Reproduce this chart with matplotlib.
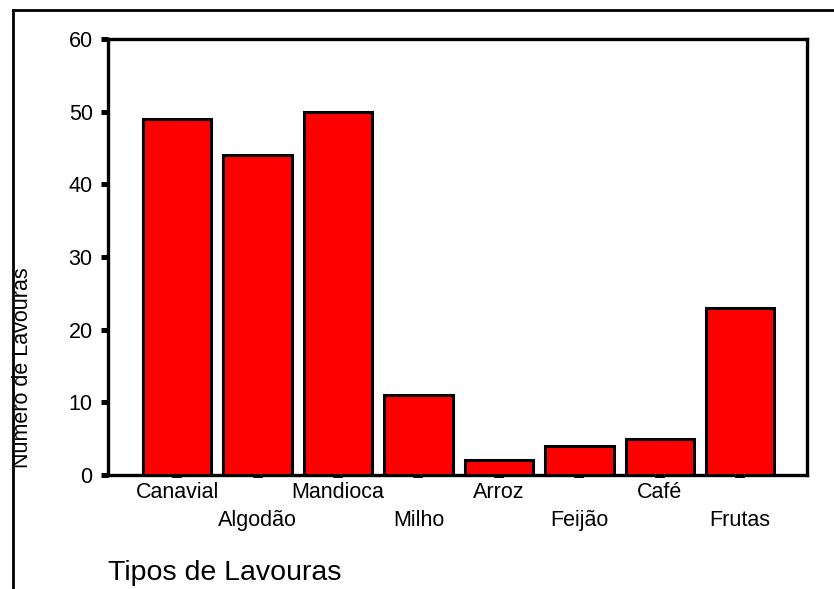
import matplotlib
matplotlib.use("Agg")
import matplotlib.pyplot as plt
from matplotlib.lines import Line2D

categories = ["Canavial", "Algodão", "Mandioca", "Milho", "Arroz", "Feijão", "Café", "Frutas"]
values = [49, 44, 50, 11, 2, 4, 5, 23]
yticks = [0, 10, 20, 30, 40, 50, 60]

plt.rcParams['font.family'] = ['Liberation Sans', 'DejaVu Sans']

W, H = 834, 589
fig = plt.figure(figsize=(W / 100, H / 100), dpi=100)
ax = fig.add_axes([108 / W, 1 - 475 / H, (807 - 108) / W, (475 - 39) / H])

x = list(range(len(categories)))
ax.bar(x, values, width=0.85, color='#ff0000', edgecolor='black', linewidth=2.2, zorder=3)

ax.set_ylim(0, 60)
ax.set_xlim(-0.86, 7.83)
ax.set_yticks(yticks)
ax.set_yticklabels([str(v) for v in yticks], fontsize=15.5)
ax.tick_params(axis='y', direction='out', length=5, width=3.6, pad=6, colors='black')
ax.set_xticks(x)
ax.set_xticklabels([''] * len(x))
ax.tick_params(axis='x', direction='out', length=2.5, width=7, pad=0)

for s in ax.spines.values():
    s.set_linewidth(2.4)
    s.set_color('black')

for i, lab in enumerate(categories):
    off_px = -7 if i % 2 == 0 else -35
    ax.annotate(lab, xy=(i, 0), xycoords=('data', 'axes fraction'),
                xytext=(0, off_px * 0.72), textcoords='offset points',
                ha='center', va='top', fontsize=15.5, color='black')

fig.text(108 / W, 1 - 580 / H, "Tipos de Lavouras", fontsize=20.5, ha='left', va='baseline', color='black')
fig.text(23 / W, 1 - 368 / H, "Numero de Lavouras", fontsize=15.5, rotation=90,
         ha='center', va='center', color='black')

# outer frame (top and left)
fig.add_artist(Line2D([13 / W, 1.0], [1 - 9.5 / H, 1 - 9.5 / H], transform=fig.transFigure,
                      color='black', linewidth=2))
fig.add_artist(Line2D([13 / W, 13 / W], [0, 1 - 9.5 / H], transform=fig.transFigure,
                      color='black', linewidth=2))

fig.savefig("out.png", dpi=100)
